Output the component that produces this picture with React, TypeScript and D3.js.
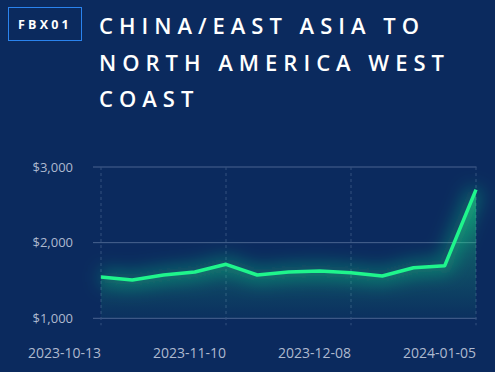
import * as d3 from "d3";

const dates = [
  "2023-10-13", "2023-10-20", "2023-10-27", "2023-11-03", "2023-11-10",
  "2023-11-17", "2023-11-24", "2023-12-01", "2023-12-08", "2023-12-15",
  "2023-12-22", "2023-12-29", "2024-01-05",
];
const prices = [1546, 1506, 1572, 1612, 1714, 1572, 1612, 1625, 1603, 1559, 1669, 1696, 2700];
const yTicks = [1000, 2000, 3000];
const xTicks = ["2023-10-13", "2023-11-10", "2023-12-08", "2024-01-05"];
const titleLines = ["CHINA/EAST ASIA TO", "NORTH AMERICA WEST", "COAST"];

const W = 495;
const H = 372;
const bg = "#0b2a5e";
const green = "#1ff58c";
const font = "'Open Sans', 'Noto Sans', sans-serif";

export default function App() {
  const x = d3.scalePoint<string>().domain(dates).range([101, 476]);
  const y = d3.scaleLinear().domain([1000, 3000]).range([318.3, 167]);

  const line = d3
    .line<number>()
    .x((_, i) => x(dates[i])!)
    .y((d) => y(d));
  const area = d3
    .area<number>()
    .x((_, i) => x(dates[i])!)
    .y0(y(1000))
    .y1((d) => y(d));

  return (
    <svg
      width={W}
      height={H}
      style={{ position: "fixed", left: 0, top: 0, display: "block" }}
    >
      <defs>
        <linearGradient id="fill" x1="0" y1="0" x2="0" y2="1" gradientUnits="objectBoundingBox">
          <stop offset="0" stopColor={green} stopOpacity={0.5} />
          <stop offset="0.5" stopColor={green} stopOpacity={0.22} />
          <stop offset="1" stopColor={green} stopOpacity={0.03} />
        </linearGradient>
        <filter id="glow" x="-20%" y="-60%" width="140%" height="220%">
          <feGaussianBlur stdDeviation="9" />
        </filter>
      </defs>
      <rect width={W} height={H} fill={bg} />

      {/* badge */}
      <rect x={8.5} y={7.5} width={73} height={33} fill="none" stroke="#2a83ee" strokeWidth={1} />
      <text
        x={45}
        y={29}
        textAnchor="middle"
        fill="#fff"
        fontFamily={font}
        fontWeight={700}
        fontSize={12.5}
        letterSpacing={3.2}
      >
        FBX01
      </text>

      {/* title */}
      {titleLines.map((t, i) => (
        <text
          key={t}
          x={99}
          y={34 + i * 36.5}
          fill="#fff"
          fontFamily={font}
          fontWeight={600}
          fontSize={22}
          letterSpacing={6}
        >
          {t}
        </text>
      ))}

      {/* grid */}
      {yTicks.map((t) => (
        <g key={t}>
          <line x1={93} x2={476.5} y1={y(t)} y2={y(t)} stroke="#4a6390" strokeWidth={1} />
          <text
            x={73}
            y={y(t) + 4.5}
            textAnchor="end"
            fill="#aeb9cf"
            fontFamily={font}
            fontSize={13}
          >
            {"$" + d3.format(",")(t)}
          </text>
        </g>
      ))}
      {xTicks.map((t) => (
        <g key={t}>
          <line
            x1={x(t)}
            x2={x(t)}
            y1={y(3000)}
            y2={y(1000) + 7}
            stroke="#34507f"
            strokeDasharray="3,3"
            strokeWidth={1}
          />
          <text
            x={x(t)!}
            y={358}
            textAnchor="end"
            fill="#aeb9cf"
            fontFamily={font}
            fontSize={14}
          >
            {t}
          </text>
        </g>
      ))}

      {/* area + glow + line */}
      <path d={area(prices)!} fill="url(#fill)" />
      <path d={line(prices)!} fill="none" stroke={green} strokeWidth={14} strokeOpacity={0.35} filter="url(#glow)" />
      <path
        d={line(prices)!}
        fill="none"
        stroke={green}
        strokeWidth={3.5}
        strokeLinejoin="round"
      />
    </svg>
  );
}
